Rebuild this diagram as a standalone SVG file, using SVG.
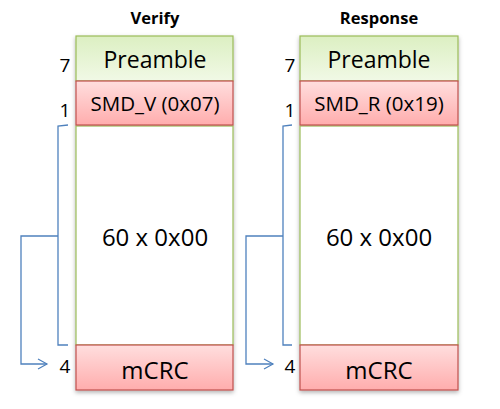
<svg xmlns="http://www.w3.org/2000/svg" width="500" height="409" viewBox="0 0 500 409">
<defs>
<linearGradient id="gGreen" x1="0" y1="0" x2="0" y2="1">
<stop offset="0" stop-color="#dcefc2"/><stop offset="1" stop-color="#f1f9e6"/>
</linearGradient>
<linearGradient id="gRed" x1="0" y1="0" x2="0" y2="1">
<stop offset="0" stop-color="#ffdede"/><stop offset="1" stop-color="#ffadad"/>
</linearGradient>
<filter id="sh" x="-10%" y="-10%" width="120%" height="130%">
<feDropShadow dx="0" dy="2" stdDeviation="2" flood-color="#000" flood-opacity="0.3"/>
</filter>
<marker id="arr" markerWidth="12" markerHeight="12" refX="10" refY="6" orient="auto" markerUnits="userSpaceOnUse">
<path d="M1,1 L10,6 L1,11" fill="none" stroke="#4f81bd" stroke-width="1.2"/>
</marker>
</defs>
<style>
.t{font-family:"Open Sans","Liberation Sans",sans-serif;fill:#000;text-anchor:middle}
.h{font-family:"Open Sans","Liberation Sans",sans-serif;font-weight:bold;font-size:16.5px;text-anchor:middle}
.n{font-family:"Open Sans","Liberation Sans",sans-serif;font-size:19px;text-anchor:middle}
.g{fill:url(#gGreen);stroke:#9bbb59;stroke-width:1.2}
.r{fill:url(#gRed);stroke:#c0504d;stroke-width:1.2}
.w{fill:#fff;stroke:#9bbb59;stroke-width:1.2}
.c{fill:none;stroke:#4f81bd;stroke-width:1.3}
</style>
<rect width="500" height="409" fill="#fff"/>
<text class="h" x="155" y="24">Verify</text>
<text class="h" x="379" y="24">Response</text>
<g id="verify" filter="url(#sh)">
<rect class="w" x="76" y="126" width="157" height="219"/>
<rect class="g" x="76" y="36" width="157" height="45"/>
<rect class="r" x="76" y="81" width="157" height="44"/>
<rect class="r" x="76" y="345" width="157" height="45"/>
</g>
<g id="verify-text">
<text class="t" x="155" y="68" font-size="23">Preamble</text>
<text class="t" x="155" y="111" font-size="20.5">SMD_V (0x07)</text>
<text class="t" x="155" y="246" font-size="24">60 x 0x00</text>
<text class="t" x="155" y="379" font-size="24">mCRC</text>
</g>
<g id="response" filter="url(#sh)">
<rect class="w" x="300" y="126" width="158" height="219"/>
<rect class="g" x="300" y="36" width="158" height="45"/>
<rect class="r" x="300" y="81" width="158" height="44"/>
<rect class="r" x="300" y="345" width="158" height="45"/>
</g>
<g id="response-text">
<text class="t" x="379" y="68" font-size="23">Preamble</text>
<text class="t" x="379" y="111" font-size="20.5">SMD_R (0x19)</text>
<text class="t" x="379" y="246" font-size="24">60 x 0x00</text>
<text class="t" x="379" y="379" font-size="24">mCRC</text>
</g>
<g id="labels">
<text class="n" x="65" y="72">7</text>
<text class="n" x="65" y="117">1</text>
<text class="n" x="65" y="373">4</text>
<text class="n" x="290" y="72">7</text>
<text class="n" x="290" y="117">1</text>
<text class="n" x="290" y="373">4</text>
</g>
<g id="connectors">
<path class="c" d="M68,125 L58,126 L58,345 L68,345"/>
<path class="c" d="M58,236 L21,236 L21,364 L47,364" marker-end="url(#arr)"/>
<path class="c" d="M292,125 L283,126 L283,345 L292,345"/>
<path class="c" d="M283,236 L246,236 L246,364 L273,364" marker-end="url(#arr)"/>
</g>
</svg>
